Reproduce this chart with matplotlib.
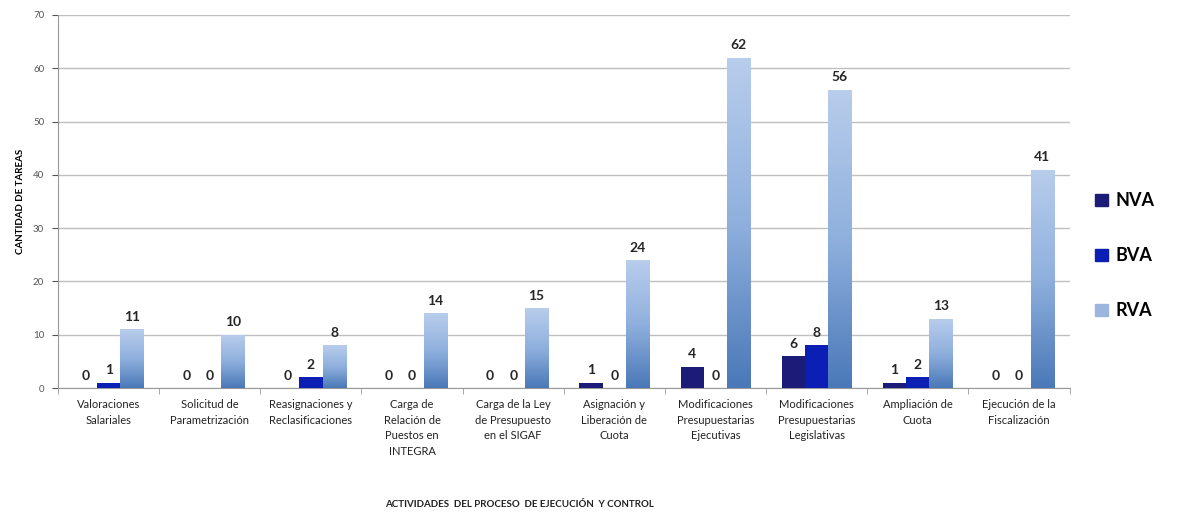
import numpy as np
import matplotlib.pyplot as plt
from matplotlib.colors import LinearSegmentedColormap
from matplotlib.patches import Patch

plt.rcParams['font.family'] = ['Lato', 'DejaVu Sans']

actividades = [
    'Valoraciones\nSalariales',
    'Solicitud de\nParametrización',
    'Reasignaciones y\nReclasificaciones',
    'Carga de\nRelación de\nPuestos en\nINTEGRA',
    'Carga de la Ley\nde Presupuesto\nen el SIGAF',
    'Asignación y\nLiberación de\nCuota',
    'Modificaciones\nPresupuestarias\nEjecutivas',
    'Modificaciones\nPresupuestarias\nLegislativas',
    'Ampliación de\nCuota',
    'Ejecución de la\nFiscalización',
]
nva = [0, 0, 0, 0, 0, 1, 4, 6, 1, 0]
bva = [1, 0, 2, 0, 0, 0, 0, 8, 2, 0]
rva = [11, 10, 8, 14, 15, 24, 62, 56, 13, 41]

fig = plt.figure(figsize=(11.99, 5.17), dpi=100)
ax = fig.add_axes([0.0484, 0.2495, 0.8436, 0.7215])

x = np.arange(len(actividades))
w = 0.23
col_nva = '#1c1c78'
col_bva = '#0b1fb4'

ax.bar(x - w, nva, w, color=col_nva, zorder=3)
ax.bar(x, bva, w, color=col_bva, zorder=3)
rva_bars = ax.bar(x + w, rva, w, color='none', zorder=3)

# vertical gradient fill for the RVA bars
grad = LinearSegmentedColormap.from_list('rva', ['#4a78b8', '#8fb0dd', '#b9cdec'])
for b in rva_bars:
    x0, y0 = b.get_x(), b.get_y()
    bw, bh = b.get_width(), b.get_height()
    img = ax.imshow(np.linspace(0, 1, 256).reshape(-1, 1), cmap=grad, origin='lower',
                    extent=[x0, x0 + bw, y0, y0 + bh], aspect='auto', zorder=3)
    img.set_clip_path(b)

for vals, off in ((nva, -w), (bva, 0), (rva, w)):
    for xi, v in zip(x, vals):
        ax.text(xi + off, v + 1.2, str(v), ha='center', va='bottom',
                fontsize=10, fontweight='bold', color='#262626', zorder=4)

ax.set_xlim(-0.5, len(actividades) - 0.5)
ax.set_ylim(0, 70)
ax.set_yticks(range(0, 71, 10))
ax.tick_params(axis='y', labelsize=7, colors='#555555', length=4, pad=6)
ax.set_xticks(x)
ax.set_xticklabels(actividades, fontsize=8, color='#222222', linespacing=1.5)
ax.tick_params(axis='x', length=0, pad=8)
ax.set_xticks(np.arange(-0.5, len(actividades), 1), minor=True)
ax.tick_params(axis='x', which='minor', length=4, color='#999999')

ax.yaxis.grid(True, color='#bfbfbf', linewidth=1)
ax.set_axisbelow(True)
for s in ('top', 'right'):
    ax.spines[s].set_visible(False)
ax.spines['left'].set_color('#999999')
ax.spines['bottom'].set_color('#999999')

ax.set_ylabel('CANTIDAD DE TAREAS', fontsize=7, fontweight='bold', labelpad=6)
fig.text(0.4335, 0.025, 'ACTIVIDADES  DEL PROCESO  DE EJECUCIÓN  Y CONTROL',
         ha='center', va='center', fontsize=7, fontweight='bold', color='#222222')

handles = [Patch(color=col_nva), Patch(color=col_bva), Patch(color='#9bb5de')]
fig.legend(handles, ['NVA', 'BVA', 'RVA'], loc='center left', bbox_to_anchor=(0.9, 0.505),
           frameon=False, prop={'size': 13, 'weight': 'bold'}, handlelength=0.7,
           handleheight=0.7, labelspacing=2.1, handletextpad=0.4)

fig.savefig('out.png', dpi=100)
